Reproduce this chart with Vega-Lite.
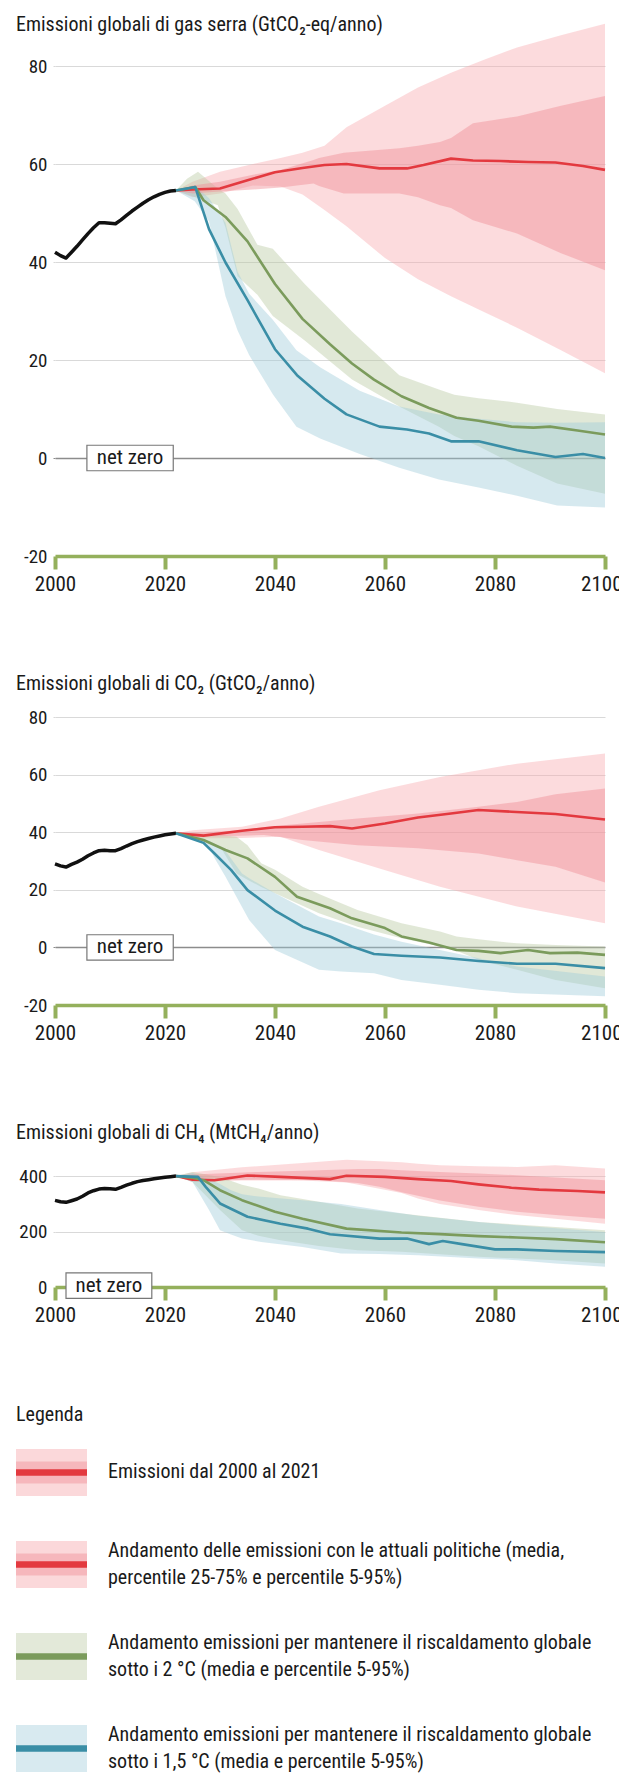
{
  "$schema": "https://vega.github.io/schema/vega-lite/v6.json",
  "background": "white",
  "padding": {"left": 11, "top": 14, "right": 0, "bottom": 0},
  "spacing": 80,
  "resolve": {"scale": {"fill": "independent", "stroke": "independent"}},
  "config": {
    "font": "Roboto Condensed, Liberation Sans Narrow, DejaVu Sans Condensed, Roboto, sans-serif",
    "view": {"stroke": null},
    "title": {"fontSize": 20, "fontWeight": "normal", "color": "#1a1a1a", "anchor": "start", "frame": "group", "dx": -39, "baseline": "bottom"},
    "axisX": {"format": "d", "grid": false, "domainColor": "#94b05c", "domainWidth": 3.5, "tickColor": "#94b05c", "tickWidth": 4, "tickSize": 13, "labelFontSize": 21, "labelPadding": 4, "labelColor": "#1a1a1a", "title": null, "labelFlush": false},
    "axisY": {"grid": true, "domain": false, "tickSize": 2, "labelFontSize": 19, "labelPadding": 6, "labelColor": "#1a1a1a", "title": null,
      "labelExpr": "'' + datum.value",
      "gridColor": {"condition": {"test": "datum.value === 0", "value": "#8c8c8c"}, "value": "#d9d9d9"},
      "tickColor": {"condition": {"test": "datum.value === 0", "value": "#8c8c8c"}, "value": "#d9d9d9"},
      "gridWidth": {"condition": {"test": "datum.value === 0", "value": 1.6}, "value": 1.2}
    }
  },
  "datasets": {
    "hist": [
      {"c":"ghg","year":2000,"v":42.0},{"c":"ghg","year":2001,"v":41.3},{"c":"ghg","year":2002,"v":40.8},{"c":"ghg","year":2003,"v":42.0},{"c":"ghg","year":2004,"v":43.2},{"c":"ghg","year":2005,"v":44.5},{"c":"ghg","year":2006,"v":45.8},{"c":"ghg","year":2007,"v":47.0},{"c":"ghg","year":2008,"v":48.0},{"c":"ghg","year":2009,"v":48.0},{"c":"ghg","year":2010,"v":47.9},{"c":"ghg","year":2011,"v":47.8},{"c":"ghg","year":2012,"v":48.6},{"c":"ghg","year":2013,"v":49.5},{"c":"ghg","year":2014,"v":50.4},{"c":"ghg","year":2015,"v":51.2},{"c":"ghg","year":2016,"v":52.0},{"c":"ghg","year":2017,"v":52.7},{"c":"ghg","year":2018,"v":53.3},{"c":"ghg","year":2019,"v":53.8},{"c":"ghg","year":2020,"v":54.2},{"c":"ghg","year":2021,"v":54.5},{"c":"ghg","year":2022,"v":54.6},
      {"c":"co2","year":2000,"v":29.0},{"c":"co2","year":2001,"v":28.3},{"c":"co2","year":2002,"v":27.9},{"c":"co2","year":2003,"v":28.8},{"c":"co2","year":2004,"v":29.6},{"c":"co2","year":2005,"v":30.6},{"c":"co2","year":2006,"v":31.8},{"c":"co2","year":2007,"v":32.8},{"c":"co2","year":2008,"v":33.6},{"c":"co2","year":2009,"v":33.7},{"c":"co2","year":2010,"v":33.6},{"c":"co2","year":2011,"v":33.6},{"c":"co2","year":2012,"v":34.3},{"c":"co2","year":2013,"v":35.2},{"c":"co2","year":2014,"v":36.0},{"c":"co2","year":2015,"v":36.7},{"c":"co2","year":2016,"v":37.3},{"c":"co2","year":2017,"v":37.8},{"c":"co2","year":2018,"v":38.3},{"c":"co2","year":2019,"v":38.7},{"c":"co2","year":2020,"v":39.1},{"c":"co2","year":2021,"v":39.4},{"c":"co2","year":2022,"v":39.6},
      {"c":"ch4","year":2000,"v":313},{"c":"ch4","year":2001,"v":308},{"c":"ch4","year":2002,"v":306},{"c":"ch4","year":2003,"v":312},{"c":"ch4","year":2004,"v":318},{"c":"ch4","year":2005,"v":328},{"c":"ch4","year":2006,"v":340},{"c":"ch4","year":2007,"v":348},{"c":"ch4","year":2008,"v":354},{"c":"ch4","year":2009,"v":356},{"c":"ch4","year":2010,"v":355},{"c":"ch4","year":2011,"v":353},{"c":"ch4","year":2012,"v":360},{"c":"ch4","year":2013,"v":368},{"c":"ch4","year":2014,"v":375},{"c":"ch4","year":2015,"v":381},{"c":"ch4","year":2016,"v":385},{"c":"ch4","year":2017,"v":388},{"c":"ch4","year":2018,"v":391},{"c":"ch4","year":2019,"v":394},{"c":"ch4","year":2020,"v":397},{"c":"ch4","year":2021,"v":399},{"c":"ch4","year":2022,"v":401}
    ],
    "line": [
      {"c":"ghg","s":"cur","year":2022,"v":54.6},{"c":"ghg","s":"cur","year":2025,"v":54.8},{"c":"ghg","s":"cur","year":2030,"v":55.0},{"c":"ghg","s":"cur","year":2035,"v":56.7},{"c":"ghg","s":"cur","year":2040,"v":58.3},{"c":"ghg","s":"cur","year":2045,"v":59.2},{"c":"ghg","s":"cur","year":2049,"v":59.8},{"c":"ghg","s":"cur","year":2053,"v":60.0},{"c":"ghg","s":"cur","year":2059,"v":59.1},{"c":"ghg","s":"cur","year":2064,"v":59.1},{"c":"ghg","s":"cur","year":2067,"v":59.8},{"c":"ghg","s":"cur","year":2072,"v":61.1},{"c":"ghg","s":"cur","year":2076,"v":60.7},{"c":"ghg","s":"cur","year":2081,"v":60.6},{"c":"ghg","s":"cur","year":2086,"v":60.4},{"c":"ghg","s":"cur","year":2091,"v":60.3},{"c":"ghg","s":"cur","year":2096,"v":59.6},{"c":"ghg","s":"cur","year":2100,"v":58.8},
      {"c":"ghg","s":"2c","year":2022,"v":54.6},{"c":"ghg","s":"2c","year":2025.5,"v":55.3},{"c":"ghg","s":"2c","year":2027,"v":52.6},{"c":"ghg","s":"2c","year":2031,"v":49.2},{"c":"ghg","s":"2c","year":2035,"v":44.2},{"c":"ghg","s":"2c","year":2040,"v":35.5},{"c":"ghg","s":"2c","year":2045,"v":28.4},{"c":"ghg","s":"2c","year":2050,"v":23.2},{"c":"ghg","s":"2c","year":2054,"v":19.3},{"c":"ghg","s":"2c","year":2058,"v":16.0},{"c":"ghg","s":"2c","year":2063,"v":12.6},{"c":"ghg","s":"2c","year":2068,"v":10.2},{"c":"ghg","s":"2c","year":2073,"v":8.2},{"c":"ghg","s":"2c","year":2077,"v":7.6},{"c":"ghg","s":"2c","year":2083,"v":6.4},{"c":"ghg","s":"2c","year":2087,"v":6.2},{"c":"ghg","s":"2c","year":2090,"v":6.4},{"c":"ghg","s":"2c","year":2095,"v":5.6},{"c":"ghg","s":"2c","year":2100,"v":4.8},
      {"c":"ghg","s":"15c","year":2022,"v":54.6},{"c":"ghg","s":"15c","year":2025.5,"v":55.3},{"c":"ghg","s":"15c","year":2028,"v":46.7},{"c":"ghg","s":"15c","year":2031,"v":39.9},{"c":"ghg","s":"15c","year":2035,"v":32.2},{"c":"ghg","s":"15c","year":2040,"v":22.2},{"c":"ghg","s":"15c","year":2044,"v":16.9},{"c":"ghg","s":"15c","year":2049,"v":12.1},{"c":"ghg","s":"15c","year":2053,"v":8.9},{"c":"ghg","s":"15c","year":2059,"v":6.4},{"c":"ghg","s":"15c","year":2064,"v":5.8},{"c":"ghg","s":"15c","year":2068,"v":5.0},{"c":"ghg","s":"15c","year":2072,"v":3.4},{"c":"ghg","s":"15c","year":2077,"v":3.4},{"c":"ghg","s":"15c","year":2084,"v":1.6},{"c":"ghg","s":"15c","year":2091,"v":0.2},{"c":"ghg","s":"15c","year":2096,"v":0.8},{"c":"ghg","s":"15c","year":2100,"v":0.0},
      {"c":"co2","s":"cur","year":2022,"v":39.6},{"c":"co2","s":"cur","year":2027,"v":38.8},{"c":"co2","s":"cur","year":2034,"v":40.5},{"c":"co2","s":"cur","year":2040,"v":41.7},{"c":"co2","s":"cur","year":2045,"v":41.9},{"c":"co2","s":"cur","year":2050,"v":42.1},{"c":"co2","s":"cur","year":2054,"v":41.3},{"c":"co2","s":"cur","year":2060,"v":43.0},{"c":"co2","s":"cur","year":2066,"v":45.1},{"c":"co2","s":"cur","year":2072,"v":46.5},{"c":"co2","s":"cur","year":2077,"v":47.7},{"c":"co2","s":"cur","year":2083,"v":47.1},{"c":"co2","s":"cur","year":2091,"v":46.3},{"c":"co2","s":"cur","year":2100,"v":44.4},
      {"c":"co2","s":"2c","year":2022,"v":39.6},{"c":"co2","s":"2c","year":2027,"v":37.3},{"c":"co2","s":"2c","year":2031,"v":33.8},{"c":"co2","s":"2c","year":2035,"v":30.9},{"c":"co2","s":"2c","year":2040,"v":24.5},{"c":"co2","s":"2c","year":2044,"v":17.6},{"c":"co2","s":"2c","year":2050,"v":13.6},{"c":"co2","s":"2c","year":2054,"v":10.1},{"c":"co2","s":"2c","year":2060,"v":6.7},{"c":"co2","s":"2c","year":2063,"v":3.8},{"c":"co2","s":"2c","year":2068,"v":1.7},{"c":"co2","s":"2c","year":2073,"v":-0.9},{"c":"co2","s":"2c","year":2077,"v":-1.2},{"c":"co2","s":"2c","year":2081,"v":-2.0},{"c":"co2","s":"2c","year":2086,"v":-0.9},{"c":"co2","s":"2c","year":2090,"v":-2.0},{"c":"co2","s":"2c","year":2095,"v":-1.8},{"c":"co2","s":"2c","year":2100,"v":-2.6},
      {"c":"co2","s":"15c","year":2022,"v":39.6},{"c":"co2","s":"15c","year":2027,"v":36.3},{"c":"co2","s":"15c","year":2029,"v":32.6},{"c":"co2","s":"15c","year":2032,"v":26.9},{"c":"co2","s":"15c","year":2035,"v":19.9},{"c":"co2","s":"15c","year":2040,"v":12.8},{"c":"co2","s":"15c","year":2045,"v":7.2},{"c":"co2","s":"15c","year":2050,"v":3.8},{"c":"co2","s":"15c","year":2054,"v":0.3},{"c":"co2","s":"15c","year":2058,"v":-2.3},{"c":"co2","s":"15c","year":2063,"v":-2.9},{"c":"co2","s":"15c","year":2070,"v":-3.5},{"c":"co2","s":"15c","year":2077,"v":-4.7},{"c":"co2","s":"15c","year":2084,"v":-5.7},{"c":"co2","s":"15c","year":2091,"v":-5.7},{"c":"co2","s":"15c","year":2100,"v":-7.2},
      {"c":"ch4","s":"cur","year":2022,"v":401},{"c":"ch4","s":"cur","year":2025,"v":388},{"c":"ch4","s":"cur","year":2029,"v":386},{"c":"ch4","s":"cur","year":2035,"v":403},{"c":"ch4","s":"cur","year":2041,"v":398},{"c":"ch4","s":"cur","year":2050,"v":390},{"c":"ch4","s":"cur","year":2053,"v":402},{"c":"ch4","s":"cur","year":2060,"v":398},{"c":"ch4","s":"cur","year":2066,"v":390},{"c":"ch4","s":"cur","year":2072,"v":383},{"c":"ch4","s":"cur","year":2077,"v":371},{"c":"ch4","s":"cur","year":2083,"v":359},{"c":"ch4","s":"cur","year":2088,"v":352},{"c":"ch4","s":"cur","year":2095,"v":347},{"c":"ch4","s":"cur","year":2100,"v":342},
      {"c":"ch4","s":"2c","year":2022,"v":401},{"c":"ch4","s":"2c","year":2025,"v":395},{"c":"ch4","s":"2c","year":2027,"v":386},{"c":"ch4","s":"2c","year":2030,"v":350},{"c":"ch4","s":"2c","year":2034,"v":314},{"c":"ch4","s":"2c","year":2040,"v":272},{"c":"ch4","s":"2c","year":2045,"v":247},{"c":"ch4","s":"2c","year":2053,"v":211},{"c":"ch4","s":"2c","year":2063,"v":197},{"c":"ch4","s":"2c","year":2070,"v":191},{"c":"ch4","s":"2c","year":2077,"v":184},{"c":"ch4","s":"2c","year":2084,"v":179},{"c":"ch4","s":"2c","year":2091,"v":173},{"c":"ch4","s":"2c","year":2100,"v":162},
      {"c":"ch4","s":"15c","year":2022,"v":401},{"c":"ch4","s":"15c","year":2026,"v":398},{"c":"ch4","s":"15c","year":2027.4,"v":362},{"c":"ch4","s":"15c","year":2030,"v":302},{"c":"ch4","s":"15c","year":2035,"v":254},{"c":"ch4","s":"15c","year":2041,"v":229},{"c":"ch4","s":"15c","year":2046,"v":211},{"c":"ch4","s":"15c","year":2050,"v":191},{"c":"ch4","s":"15c","year":2059,"v":175},{"c":"ch4","s":"15c","year":2064,"v":175},{"c":"ch4","s":"15c","year":2068,"v":155},{"c":"ch4","s":"15c","year":2070.5,"v":166},{"c":"ch4","s":"15c","year":2074,"v":155},{"c":"ch4","s":"15c","year":2080,"v":136},{"c":"ch4","s":"15c","year":2084,"v":136},{"c":"ch4","s":"15c","year":2091,"v":130},{"c":"ch4","s":"15c","year":2100,"v":126}
    ],
    "band": [
      {"c":"ghg","s":"cur","year":2022,"lo":54.6,"hi":54.6},{"c":"ghg","s":"cur","year":2025,"lo":53.2,"hi":56.4},{"c":"ghg","s":"cur","year":2030,"lo":54.0,"hi":58.4},{"c":"ghg","s":"cur","year":2036,"lo":55.6,"hi":60.0},{"c":"ghg","s":"cur","year":2041,"lo":55.4,"hi":61.2},{"c":"ghg","s":"cur","year":2045,"lo":53.8,"hi":62.3},{"c":"ghg","s":"cur","year":2049,"lo":50.6,"hi":63.7},{"c":"ghg","s":"cur","year":2053,"lo":47.3,"hi":67.5},{"c":"ghg","s":"cur","year":2060,"lo":40.8,"hi":71.9},{"c":"ghg","s":"cur","year":2066,"lo":36.5,"hi":75.6},{"c":"ghg","s":"cur","year":2072,"lo":33.0,"hi":78.6},{"c":"ghg","s":"cur","year":2078,"lo":29.8,"hi":81.3},{"c":"ghg","s":"cur","year":2084,"lo":26.6,"hi":83.8},{"c":"ghg","s":"cur","year":2092,"lo":22.0,"hi":86.3},{"c":"ghg","s":"cur","year":2100,"lo":17.3,"hi":88.6},
      {"c":"ghg","s":"2c","year":2022,"lo":54.6,"hi":54.6},{"c":"ghg","s":"2c","year":2024,"lo":53.8,"hi":57.0},{"c":"ghg","s":"2c","year":2026,"lo":53.0,"hi":58.4},{"c":"ghg","s":"2c","year":2029.6,"lo":51.6,"hi":55.0},{"c":"ghg","s":"2c","year":2031,"lo":47.0,"hi":54.0},{"c":"ghg","s":"2c","year":2033.2,"lo":37.1,"hi":50.8},{"c":"ghg","s":"2c","year":2036.8,"lo":33.3,"hi":43.5},{"c":"ghg","s":"2c","year":2039.6,"lo":29.0,"hi":42.7},{"c":"ghg","s":"2c","year":2045.4,"lo":24.0,"hi":35.5},{"c":"ghg","s":"2c","year":2054,"lo":16.0,"hi":25.8},{"c":"ghg","s":"2c","year":2062.6,"lo":10.5,"hi":16.9},{"c":"ghg","s":"2c","year":2069.8,"lo":6.4,"hi":14.0},{"c":"ghg","s":"2c","year":2072.6,"lo":4.5,"hi":12.9},{"c":"ghg","s":"2c","year":2077,"lo":2.4,"hi":12.2},{"c":"ghg","s":"2c","year":2084,"lo":-1.6,"hi":11.3},{"c":"ghg","s":"2c","year":2091.3,"lo":-5.2,"hi":10.0},{"c":"ghg","s":"2c","year":2100,"lo":-7.3,"hi":8.9},
      {"c":"ghg","s":"15c","year":2022,"lo":54.6,"hi":54.6},{"c":"ghg","s":"15c","year":2025.4,"lo":52.4,"hi":55.6},{"c":"ghg","s":"15c","year":2028,"lo":48.3,"hi":53.0},{"c":"ghg","s":"15c","year":2031,"lo":33.0,"hi":48.0},{"c":"ghg","s":"15c","year":2033.2,"lo":26.0,"hi":38.0},{"c":"ghg","s":"15c","year":2035.3,"lo":21.0,"hi":33.5},{"c":"ghg","s":"15c","year":2039.6,"lo":13.0,"hi":28.2},{"c":"ghg","s":"15c","year":2043.9,"lo":6.4,"hi":22.0},{"c":"ghg","s":"15c","year":2048.2,"lo":4.0,"hi":18.5},{"c":"ghg","s":"15c","year":2055.4,"lo":0.8,"hi":13.7},{"c":"ghg","s":"15c","year":2062.6,"lo":-2.0,"hi":10.5},{"c":"ghg","s":"15c","year":2069.8,"lo":-4.4,"hi":8.9},{"c":"ghg","s":"15c","year":2077,"lo":-6.0,"hi":8.0},{"c":"ghg","s":"15c","year":2084,"lo":-7.7,"hi":7.3},{"c":"ghg","s":"15c","year":2091.3,"lo":-9.7,"hi":7.2},{"c":"ghg","s":"15c","year":2100,"lo":-10.1,"hi":7.3},
      {"c":"co2","s":"cur","year":2022,"lo":39.6,"hi":39.6},{"c":"co2","s":"cur","year":2025,"lo":37.8,"hi":40.7},{"c":"co2","s":"cur","year":2034,"lo":38.0,"hi":41.9},{"c":"co2","s":"cur","year":2041,"lo":38.4,"hi":44.8},{"c":"co2","s":"cur","year":2048,"lo":33.8,"hi":48.8},{"c":"co2","s":"cur","year":2059,"lo":27.4,"hi":54.6},{"c":"co2","s":"cur","year":2070,"lo":21.1,"hi":59.2},{"c":"co2","s":"cur","year":2084,"lo":14.2,"hi":63.8},{"c":"co2","s":"cur","year":2100,"lo":8.4,"hi":67.3},
      {"c":"co2","s":"2c","year":2022,"lo":39.6,"hi":39.6},{"c":"co2","s":"2c","year":2025,"lo":37.8,"hi":39.6},{"c":"co2","s":"2c","year":2030,"lo":35.0,"hi":39.0},{"c":"co2","s":"2c","year":2033,"lo":25.7,"hi":38.4},{"c":"co2","s":"2c","year":2035,"lo":23.5,"hi":35.5},{"c":"co2","s":"2c","year":2037.5,"lo":21.0,"hi":29.2},{"c":"co2","s":"2c","year":2040,"lo":18.8,"hi":27.0},{"c":"co2","s":"2c","year":2045,"lo":14.5,"hi":21.1},{"c":"co2","s":"2c","year":2048,"lo":11.9,"hi":18.5},{"c":"co2","s":"2c","year":2055,"lo":7.2,"hi":13.0},{"c":"co2","s":"2c","year":2063,"lo":3.2,"hi":8.4},{"c":"co2","s":"2c","year":2070,"lo":0.3,"hi":5.5},{"c":"co2","s":"2c","year":2073,"lo":-1.2,"hi":3.8},{"c":"co2","s":"2c","year":2077,"lo":-4.3,"hi":2.8},{"c":"co2","s":"2c","year":2084,"lo":-7.8,"hi":1.4},{"c":"co2","s":"2c","year":2091,"lo":-11.3,"hi":0.8},{"c":"co2","s":"2c","year":2100,"lo":-14.2,"hi":0.3},
      {"c":"co2","s":"15c","year":2022,"lo":39.6,"hi":39.6},{"c":"co2","s":"15c","year":2025,"lo":38.4,"hi":39.0},{"c":"co2","s":"15c","year":2028,"lo":35.0,"hi":37.0},{"c":"co2","s":"15c","year":2029,"lo":31.0,"hi":36.1},{"c":"co2","s":"15c","year":2031,"lo":24.5,"hi":33.5},{"c":"co2","s":"15c","year":2034,"lo":14.0,"hi":25.7},{"c":"co2","s":"15c","year":2035.3,"lo":9.5,"hi":24.0},{"c":"co2","s":"15c","year":2040,"lo":-0.9,"hi":18.8},{"c":"co2","s":"15c","year":2048,"lo":-7.8,"hi":10.7},{"c":"co2","s":"15c","year":2052,"lo":-8.4,"hi":8.4},{"c":"co2","s":"15c","year":2058,"lo":-9.0,"hi":4.5},{"c":"co2","s":"15c","year":2063,"lo":-11.3,"hi":2.0},{"c":"co2","s":"15c","year":2070,"lo":-13.0,"hi":-0.9},{"c":"co2","s":"15c","year":2077,"lo":-14.7,"hi":-3.8},{"c":"co2","s":"15c","year":2084,"lo":-15.9,"hi":-6.6},{"c":"co2","s":"15c","year":2100,"lo":-17.0,"hi":-10.1},
      {"c":"ch4","s":"cur","year":2022,"lo":401,"hi":401},{"c":"ch4","s":"cur","year":2025,"lo":380,"hi":415},{"c":"ch4","s":"cur","year":2034,"lo":385,"hi":433},{"c":"ch4","s":"cur","year":2045,"lo":385,"hi":448},{"c":"ch4","s":"cur","year":2053,"lo":378,"hi":460},{"c":"ch4","s":"cur","year":2059,"lo":355,"hi":455},{"c":"ch4","s":"cur","year":2063,"lo":340,"hi":451},{"c":"ch4","s":"cur","year":2066,"lo":320,"hi":446},{"c":"ch4","s":"cur","year":2070,"lo":300,"hi":440},{"c":"ch4","s":"cur","year":2077,"lo":278,"hi":437},{"c":"ch4","s":"cur","year":2084,"lo":260,"hi":434},{"c":"ch4","s":"cur","year":2091,"lo":247,"hi":440},{"c":"ch4","s":"cur","year":2100,"lo":229,"hi":428},
      {"c":"ch4","s":"2c","year":2022,"lo":401,"hi":401},{"c":"ch4","s":"2c","year":2025,"lo":380,"hi":416},{"c":"ch4","s":"2c","year":2030,"lo":278,"hi":398},{"c":"ch4","s":"2c","year":2034,"lo":205,"hi":370},{"c":"ch4","s":"2c","year":2037,"lo":185,"hi":356},{"c":"ch4","s":"2c","year":2041,"lo":169,"hi":332},{"c":"ch4","s":"2c","year":2048,"lo":148,"hi":308},{"c":"ch4","s":"2c","year":2055,"lo":133,"hi":284},{"c":"ch4","s":"2c","year":2063,"lo":127,"hi":266},{"c":"ch4","s":"2c","year":2077,"lo":109,"hi":235},{"c":"ch4","s":"2c","year":2091,"lo":97,"hi":217},{"c":"ch4","s":"2c","year":2100,"lo":85,"hi":205},
      {"c":"ch4","s":"15c","year":2022,"lo":401,"hi":401},{"c":"ch4","s":"15c","year":2025,"lo":380,"hi":412},{"c":"ch4","s":"15c","year":2028,"lo":278,"hi":390},{"c":"ch4","s":"15c","year":2030,"lo":205,"hi":372},{"c":"ch4","s":"15c","year":2032,"lo":190,"hi":350},{"c":"ch4","s":"15c","year":2034,"lo":175,"hi":335},{"c":"ch4","s":"15c","year":2037.5,"lo":163,"hi":326},{"c":"ch4","s":"15c","year":2045,"lo":145,"hi":314},{"c":"ch4","s":"15c","year":2052,"lo":121,"hi":300},{"c":"ch4","s":"15c","year":2059,"lo":119,"hi":278},{"c":"ch4","s":"15c","year":2066,"lo":115,"hi":258},{"c":"ch4","s":"15c","year":2077,"lo":103,"hi":235},{"c":"ch4","s":"15c","year":2084,"lo":97,"hi":223},{"c":"ch4","s":"15c","year":2091,"lo":85,"hi":212},{"c":"ch4","s":"15c","year":2100,"lo":73,"hi":199}
    ],
    "iqr": [
      {"c":"ghg","year":2022,"lo":54.6,"hi":54.6},{"c":"ghg","year":2025,"lo":54.0,"hi":55.6},{"c":"ghg","year":2030,"lo":54.4,"hi":56.4},{"c":"ghg","year":2036,"lo":54.8,"hi":57.8},{"c":"ghg","year":2041,"lo":55.2,"hi":58.8},{"c":"ghg","year":2047,"lo":56.0,"hi":60.8},{"c":"ghg","year":2048,"lo":55.5,"hi":61.2},{"c":"ghg","year":2052.5,"lo":54.0,"hi":62.3},{"c":"ghg","year":2062.6,"lo":54.0,"hi":63.2},{"c":"ghg","year":2066,"lo":53.2,"hi":63.7},{"c":"ghg","year":2070,"lo":51.6,"hi":64.5},{"c":"ghg","year":2072,"lo":51.0,"hi":65.3},{"c":"ghg","year":2076,"lo":48.5,"hi":68.3},{"c":"ghg","year":2084,"lo":45.8,"hi":69.7},{"c":"ghg","year":2092,"lo":41.8,"hi":71.9},{"c":"ghg","year":2100,"lo":38.3,"hi":73.9},
      {"c":"co2","year":2022,"lo":39.6,"hi":39.6},{"c":"co2","year":2025,"lo":38.4,"hi":39.8},{"c":"co2","year":2034,"lo":38.8,"hi":40.7},{"c":"co2","year":2038,"lo":39.0,"hi":41.8},{"c":"co2","year":2045,"lo":37.3,"hi":43.0},{"c":"co2","year":2055,"lo":35.5,"hi":44.8},{"c":"co2","year":2066,"lo":34.4,"hi":46.5},{"c":"co2","year":2077,"lo":32.6,"hi":48.8},{"c":"co2","year":2084,"lo":30.3,"hi":50.5},{"c":"co2","year":2091,"lo":28.0,"hi":53.2},{"c":"co2","year":2100,"lo":22.5,"hi":55.2},
      {"c":"ch4","year":2022,"lo":401,"hi":401},{"c":"ch4","year":2025,"lo":386,"hi":407},{"c":"ch4","year":2037,"lo":388,"hi":416},{"c":"ch4","year":2048,"lo":386,"hi":422},{"c":"ch4","year":2055,"lo":376,"hi":427},{"c":"ch4","year":2059,"lo":362,"hi":427},{"c":"ch4","year":2063,"lo":343,"hi":422},{"c":"ch4","year":2070,"lo":313,"hi":416},{"c":"ch4","year":2077,"lo":290,"hi":410},{"c":"ch4","year":2084,"lo":272,"hi":404},{"c":"ch4","year":2091,"lo":260,"hi":396},{"c":"ch4","year":2100,"lo":247,"hi":386}
    ],
    "legend": [
      {"k":"hist","label":"Emissioni dal 2000 al 2021"},
      {"k":"cur","label":"Andamento delle emissioni con le attuali politiche (media,\npercentile 25-75% e percentile 5-95%)"},
      {"k":"2c","label":"Andamento emissioni per mantenere il riscaldamento globale\nsotto i 2 °C (media e percentile 5-95%)"},
      {"k":"15c","label":"Andamento emissioni per mantenere il riscaldamento globale\nsotto i 1,5 °C (media e percentile 5-95%)"}
    ]
  },
  "vconcat": [
    {
      "width": 550, "height": 490,
      "title": {"text": "Emissioni globali di gas serra (GtCO₂-eq/anno)", "offset": -11},
      "layer": [
        {"data": {"name": "band"}, "transform": [{"filter": "datum.c === 'ghg'"}],
         "mark": {"type": "area", "opacity": 0.42, "clip": false},
         "encoding": {
           "x": {"field": "year", "type": "quantitative", "scale": {"domain": [2000, 2100], "nice": false, "zero": false}, "axis": {"values": [2000, 2020, 2040, 2060, 2080, 2100], "labelAlign": {"condition": {"test": "datum.value === 2100", "value": "right"}, "value": "center"}, "labelOffset": {"condition": {"test": "datum.value === 2100", "value": 17}, "value": 0}}},
           "y": {"field": "lo", "type": "quantitative", "scale": {"domain": [-20, 80], "nice": false, "zero": false}, "axis": {"values": [-20, 0, 20, 40, 60, 80], "gridOpacity": {"condition": {"test": "datum.value === -20", "value": 0}, "value": 1}, "tickOpacity": {"condition": {"test": "datum.value === -20", "value": 0}, "value": 1}}},
           "y2": {"field": "hi"},
           "fill": {"field": "s", "type": "nominal", "scale": {"domain": ["cur", "2c", "15c"], "range": ["#f7a9ae", "#b8c9a0", "#9dcbd9"]}, "legend": null}
         }},
        {"data": {"name": "iqr"}, "transform": [{"filter": "datum.c === 'ghg'"}],
         "mark": {"type": "area", "color": "#ef8f96", "opacity": 0.45, "clip": false},
         "encoding": {"x": {"field": "year", "type": "quantitative"}, "y": {"field": "lo", "type": "quantitative"}, "y2": {"field": "hi"}}},
        {"data": {"name": "hist"}, "transform": [{"filter": "datum.c === 'ghg'"}],
         "mark": {"type": "line", "color": "#111111", "strokeWidth": 3.5, "strokeJoin": "round"},
         "encoding": {"x": {"field": "year", "type": "quantitative"}, "y": {"field": "v", "type": "quantitative"}}},
        {"data": {"name": "line"}, "transform": [{"filter": "datum.c === 'ghg'"}],
         "mark": {"type": "line", "strokeWidth": 2.6, "strokeJoin": "round", "clip": false},
         "encoding": {"x": {"field": "year", "type": "quantitative"}, "y": {"field": "v", "type": "quantitative"},
           "stroke": {"field": "s", "type": "nominal", "scale": {"domain": ["cur", "2c", "15c"], "range": ["#e3393f", "#7b9b5c", "#3a8ea6"]}, "legend": null}}},
        {"data": {"values": [{}]},
         "mark": {"type": "rect", "fill": "white", "stroke": "#777777", "strokeWidth": 1.2},
         "encoding": {"x": {"datum": 2005.8, "type": "quantitative"}, "x2": {"datum": 2021.5}, "y": {"datum": -2.6, "type": "quantitative"}, "y2": {"datum": 2.6}}},
        {"data": {"values": [{}]},
         "mark": {"type": "text", "text": "net zero", "fontSize": 21, "color": "#1a1a1a", "baseline": "middle"},
         "encoding": {"x": {"datum": 2013.65, "type": "quantitative"}, "y": {"datum": 0, "type": "quantitative"}}}
      ]
    },
    {
      "width": 550, "height": 288,
      "title": {"text": "Emissioni globali di CO₂ (GtCO₂/anno)", "offset": 14},
      "layer": [
        {"data": {"name": "band"}, "transform": [{"filter": "datum.c === 'co2'"}],
         "mark": {"type": "area", "opacity": 0.42, "clip": false},
         "encoding": {
           "x": {"field": "year", "type": "quantitative", "scale": {"domain": [2000, 2100], "nice": false, "zero": false}, "axis": {"values": [2000, 2020, 2040, 2060, 2080, 2100], "labelAlign": {"condition": {"test": "datum.value === 2100", "value": "right"}, "value": "center"}, "labelOffset": {"condition": {"test": "datum.value === 2100", "value": 17}, "value": 0}}},
           "y": {"field": "lo", "type": "quantitative", "scale": {"domain": [-20, 80], "nice": false, "zero": false}, "axis": {"values": [-20, 0, 20, 40, 60, 80], "gridOpacity": {"condition": {"test": "datum.value === -20", "value": 0}, "value": 1}, "tickOpacity": {"condition": {"test": "datum.value === -20", "value": 0}, "value": 1}}},
           "y2": {"field": "hi"},
           "fill": {"field": "s", "type": "nominal", "scale": {"domain": ["cur", "2c", "15c"], "range": ["#f7a9ae", "#b8c9a0", "#9dcbd9"]}, "legend": null}
         }},
        {"data": {"name": "iqr"}, "transform": [{"filter": "datum.c === 'co2'"}],
         "mark": {"type": "area", "color": "#ef8f96", "opacity": 0.45, "clip": false},
         "encoding": {"x": {"field": "year", "type": "quantitative"}, "y": {"field": "lo", "type": "quantitative"}, "y2": {"field": "hi"}}},
        {"data": {"name": "hist"}, "transform": [{"filter": "datum.c === 'co2'"}],
         "mark": {"type": "line", "color": "#111111", "strokeWidth": 3.5, "strokeJoin": "round"},
         "encoding": {"x": {"field": "year", "type": "quantitative"}, "y": {"field": "v", "type": "quantitative"}}},
        {"data": {"name": "line"}, "transform": [{"filter": "datum.c === 'co2'"}],
         "mark": {"type": "line", "strokeWidth": 2.6, "strokeJoin": "round", "clip": false},
         "encoding": {"x": {"field": "year", "type": "quantitative"}, "y": {"field": "v", "type": "quantitative"},
           "stroke": {"field": "s", "type": "nominal", "scale": {"domain": ["cur", "2c", "15c"], "range": ["#e3393f", "#7b9b5c", "#3a8ea6"]}, "legend": null}}},
        {"data": {"values": [{}]},
         "mark": {"type": "rect", "fill": "white", "stroke": "#777777", "strokeWidth": 1.2},
         "encoding": {"x": {"datum": 2005.8, "type": "quantitative"}, "x2": {"datum": 2021.5}, "y": {"datum": -4.4, "type": "quantitative"}, "y2": {"datum": 4.4}}},
        {"data": {"values": [{}]},
         "mark": {"type": "text", "text": "net zero", "fontSize": 21, "color": "#1a1a1a", "baseline": "middle"},
         "encoding": {"x": {"datum": 2013.65, "type": "quantitative"}, "y": {"datum": 0, "type": "quantitative"}}}
      ]
    },
    {
      "width": 550, "height": 130,
      "title": {"text": "Emissioni globali di CH₄ (MtCH₄/anno)", "offset": 14},
      "layer": [
        {"data": {"name": "band"}, "transform": [{"filter": "datum.c === 'ch4'"}],
         "mark": {"type": "area", "opacity": 0.42},
         "encoding": {
           "x": {"field": "year", "type": "quantitative", "scale": {"domain": [2000, 2100], "nice": false, "zero": false}, "axis": {"values": [2000, 2020, 2040, 2060, 2080, 2100], "labelAlign": {"condition": {"test": "datum.value === 2100", "value": "right"}, "value": "center"}, "labelOffset": {"condition": {"test": "datum.value === 2100", "value": 17}, "value": 0}}},
           "y": {"field": "lo", "type": "quantitative", "scale": {"domain": [0, 470], "nice": false, "zero": false}, "axis": {"values": [0, 200, 400], "gridOpacity": {"condition": {"test": "datum.value === 0", "value": 0}, "value": 1}, "tickOpacity": {"condition": {"test": "datum.value === 0", "value": 0}, "value": 1}}},
           "y2": {"field": "hi"},
           "fill": {"field": "s", "type": "nominal", "scale": {"domain": ["cur", "2c", "15c"], "range": ["#f7a9ae", "#b8c9a0", "#9dcbd9"]}, "legend": null}
         }},
        {"data": {"name": "iqr"}, "transform": [{"filter": "datum.c === 'ch4'"}],
         "mark": {"type": "area", "color": "#ef8f96", "opacity": 0.45},
         "encoding": {"x": {"field": "year", "type": "quantitative"}, "y": {"field": "lo", "type": "quantitative"}, "y2": {"field": "hi"}}},
        {"data": {"name": "hist"}, "transform": [{"filter": "datum.c === 'ch4'"}],
         "mark": {"type": "line", "color": "#111111", "strokeWidth": 3.5, "strokeJoin": "round"},
         "encoding": {"x": {"field": "year", "type": "quantitative"}, "y": {"field": "v", "type": "quantitative"}}},
        {"data": {"name": "line"}, "transform": [{"filter": "datum.c === 'ch4'"}],
         "mark": {"type": "line", "strokeWidth": 2.6, "strokeJoin": "round"},
         "encoding": {"x": {"field": "year", "type": "quantitative"}, "y": {"field": "v", "type": "quantitative"},
           "stroke": {"field": "s", "type": "nominal", "scale": {"domain": ["cur", "2c", "15c"], "range": ["#e3393f", "#7b9b5c", "#3a8ea6"]}, "legend": null}}},
        {"data": {"values": [{}]},
         "mark": {"type": "rect", "fill": "white", "stroke": "#777777", "strokeWidth": 1.2},
         "encoding": {"x": {"datum": 2002, "type": "quantitative"}, "x2": {"datum": 2017.6}, "y": {"datum": -41, "type": "quantitative"}, "y2": {"datum": 51}}},
        {"data": {"values": [{}]},
         "mark": {"type": "text", "text": "net zero", "fontSize": 21, "color": "#1a1a1a", "baseline": "middle"},
         "encoding": {"x": {"datum": 2009.8, "type": "quantitative"}, "y": {"datum": 5, "type": "quantitative"}}}
      ]
    },
    {
      "width": 550, "height": 323,
      "title": {"text": "Legenda", "offset": 24},
      "data": {"name": "legend"},
      "layer": [
        {"mark": {"type": "rect"},
         "encoding": {
           "x": {"datum": -39, "type": "quantitative", "scale": {"domain": [0, 550], "nice": false, "zero": false}, "axis": null},
           "x2": {"datum": 32},
           "y": {"field": "k", "type": "nominal", "scale": {"domain": ["hist", "cur", "2c", "15c"], "paddingInner": 0.49, "paddingOuter": 0}, "axis": null},
           "fill": {"field": "k", "type": "nominal", "scale": {"domain": ["hist", "cur", "2c", "15c"], "range": ["#fbd8da", "#fbd8da", "#e3e9d9", "#d8eaf0"]}, "legend": null}
         }},
        {"transform": [{"filter": "datum.k === 'hist' || datum.k === 'cur'"}],
         "mark": {"type": "rule", "color": "#f6b7bc", "strokeWidth": 22, "strokeCap": "square"},
         "encoding": {"x": {"datum": -28, "type": "quantitative"}, "x2": {"datum": 21}, "y": {"field": "k", "type": "nominal"}}},
        {"mark": {"type": "rule", "strokeWidth": 6.5, "strokeCap": "square"},
         "encoding": {"x": {"datum": -35.75, "type": "quantitative"}, "x2": {"datum": 28.75}, "y": {"field": "k", "type": "nominal"},
           "stroke": {"field": "k", "type": "nominal", "scale": {"domain": ["hist", "cur", "2c", "15c"], "range": ["#e3393f", "#e3393f", "#7b9b5c", "#3a8ea6"]}, "legend": null}}},
        {"transform": [{"filter": "datum.k === 'hist'"}],
         "mark": {"type": "text", "align": "left", "baseline": "middle", "fontSize": 20, "color": "#1a1a1a"},
         "encoding": {"x": {"datum": 53, "type": "quantitative"}, "y": {"field": "k", "type": "nominal"}, "text": {"field": "label"}}},
        {"transform": [{"filter": "datum.k !== 'hist'"}],
         "mark": {"type": "text", "align": "left", "baseline": "middle", "fontSize": 20, "lineBreak": "\n", "lineHeight": 27.7, "dy": -13.85, "color": "#1a1a1a"},
         "encoding": {"x": {"datum": 53, "type": "quantitative"}, "y": {"field": "k", "type": "nominal"}, "text": {"field": "label"}}}
      ]
    }
  ]
}
